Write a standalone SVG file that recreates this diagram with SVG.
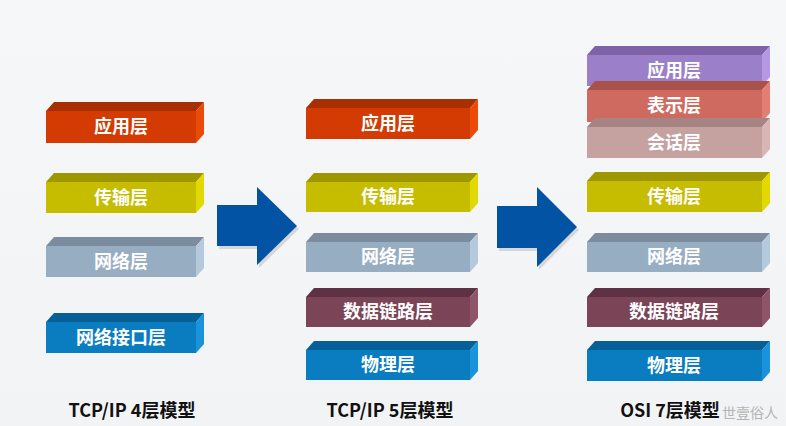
<svg xmlns="http://www.w3.org/2000/svg" width="786" height="426" viewBox="0 0 786 426">
<defs>
<style>
.lbl{font-family:"Noto Sans CJK SC","Noto Sans",sans-serif;font-weight:700;font-size:18px;fill:#ffffff;text-anchor:middle}
.ttl{font-family:"Noto Sans CJK SC","Noto Sans",sans-serif;font-weight:700;font-size:18px;fill:#111111;text-anchor:middle}
.wm{font-family:"Noto Sans CJK SC","Noto Sans",sans-serif;font-size:14px;fill:#9a9a9a;opacity:0.7}
.red .f{fill:#D33B02}.red .t{fill:#A82F02}.red .r{fill:#EC4A08}
.yel .f{fill:#C6BC00}.yel .t{fill:#9E9700}.yel .r{fill:#E2D900}
.gry .f{fill:#97ADC1}.gry .t{fill:#7A8C9D}.gry .r{fill:#B4CADC}
.blu .f{fill:#0A7DC0}.blu .t{fill:#075F97}.blu .r{fill:#1B93DA}
.plm .f{fill:#7B4457}.plm .t{fill:#5E3242}.plm .r{fill:#8E5468}
.pur .f{fill:#9C7FC9}.pur .t{fill:#7E63A8}.pur .r{fill:#B597E4}
.sal .f{fill:#CF6A61}.sal .t{fill:#A9524B}.sal .r{fill:#E27E74}
.ros .f{fill:#C5A1A0}.ros .t{fill:#A68483}.ros .r{fill:#D8B6B5}
.arw{fill:#0253A4}
.sh{fill:#000000;opacity:0.12}
</style>
<linearGradient id="bg" x1="0" y1="0" x2="0" y2="1">
<stop offset="0" stop-color="#F6F7F8"/>
<stop offset="1" stop-color="#F2F3F4"/>
</linearGradient>
</defs>
<rect width="786" height="426" fill="url(#bg)"/>

<!-- Column 1: TCP/IP 4 -->
<g id="c1-app" class="red">
<polygon class="t" points="46,111 54,102 204,102 196,111"/>
<polygon class="r" points="196,111 204,102 204,134 196,143"/>
<rect class="f" x="46" y="111" width="150" height="32"/>
<text class="lbl" x="121" y="133">应用层</text>
</g>
<g id="c1-trans" class="yel">
<polygon class="t" points="46,182 54,173 204,173 196,182"/>
<polygon class="r" points="196,182 204,173 204,204 196,213"/>
<rect class="f" x="46" y="182" width="150" height="31"/>
<text class="lbl" x="121" y="204">传输层</text>
</g>
<g id="c1-net" class="gry">
<polygon class="t" points="46,246 54,237 204,237 196,246"/>
<polygon class="r" points="196,246 204,237 204,268 196,277"/>
<rect class="f" x="46" y="246" width="150" height="31"/>
<text class="lbl" x="121" y="268">网络层</text>
</g>
<g id="c1-if" class="blu">
<polygon class="t" points="46,322 54,313 204,313 196,322"/>
<polygon class="r" points="196,322 204,313 204,344 196,353"/>
<rect class="f" x="46" y="322" width="150" height="31"/>
<text class="lbl" x="121" y="344">网络接口层</text>
</g>
<g id="t1"><text class="ttl" x="132" y="417">TCP/IP 4层模型</text></g>

<!-- Column 2: TCP/IP 5 -->
<g id="c2-app" class="red">
<polygon class="t" points="306,108 314,99 478,99 470,108"/>
<polygon class="r" points="470,108 478,99 478,130 470,139"/>
<rect class="f" x="306" y="108" width="164" height="31"/>
<text class="lbl" x="388" y="130">应用层</text>
</g>
<g id="c2-trans" class="yel">
<polygon class="t" points="306,182 314,173 478,173 470,182"/>
<polygon class="r" points="470,182 478,173 478,203 470,212"/>
<rect class="f" x="306" y="182" width="164" height="30"/>
<text class="lbl" x="388" y="203">传输层</text>
</g>
<g id="c2-net" class="gry">
<polygon class="t" points="306,242 314,233 478,233 470,242"/>
<polygon class="r" points="470,242 478,233 478,263 470,272"/>
<rect class="f" x="306" y="242" width="164" height="30"/>
<text class="lbl" x="388" y="263">网络层</text>
</g>
<g id="c2-link" class="plm">
<polygon class="t" points="306,297 314,288 478,288 470,297"/>
<polygon class="r" points="470,297 478,288 478,318 470,327"/>
<rect class="f" x="306" y="297" width="164" height="30"/>
<text class="lbl" x="388" y="318">数据链路层</text>
</g>
<g id="c2-phy" class="blu">
<polygon class="t" points="306,350 314,341 478,341 470,350"/>
<polygon class="r" points="470,350 478,341 478,371 470,380"/>
<rect class="f" x="306" y="350" width="164" height="30"/>
<text class="lbl" x="388" y="371">物理层</text>
</g>
<g id="t2"><text class="ttl" x="390" y="417">TCP/IP 5层模型</text></g>

<!-- Column 3: OSI 7 -->
<g id="c3-app" class="pur">
<polygon class="t" points="587,55 595,46 770,46 762,55"/>
<polygon class="r" points="762,55 770,46 770,77 762,86"/>
<rect class="f" x="587" y="55" width="175" height="31"/>
<text class="lbl" x="674" y="77">应用层</text>
</g>
<g id="c3-pres" class="sal">
<polygon class="t" points="587,90 595,81 770,81 762,90"/>
<polygon class="r" points="762,90 770,81 770,113 762,122"/>
<rect class="f" x="587" y="90" width="175" height="32"/>
<text class="lbl" x="674" y="112">表示层</text>
</g>
<g id="c3-sess" class="ros">
<polygon class="t" points="587,127 595,118 770,118 762,127"/>
<polygon class="r" points="762,127 770,118 770,149 762,158"/>
<rect class="f" x="587" y="127" width="175" height="31"/>
<text class="lbl" x="674" y="149">会话层</text>
</g>
<g id="c3-trans" class="yel">
<polygon class="t" points="587,181 595,172 770,172 762,181"/>
<polygon class="r" points="762,181 770,172 770,203 762,212"/>
<rect class="f" x="587" y="181" width="175" height="31"/>
<text class="lbl" x="674" y="203">传输层</text>
</g>
<g id="c3-net" class="gry">
<polygon class="t" points="587,242 595,233 770,233 762,242"/>
<polygon class="r" points="762,242 770,233 770,263 762,272"/>
<rect class="f" x="587" y="242" width="175" height="30"/>
<text class="lbl" x="674" y="263">网络层</text>
</g>
<g id="c3-link" class="plm">
<polygon class="t" points="587,297 595,288 770,288 762,297"/>
<polygon class="r" points="762,297 770,288 770,318 762,327"/>
<rect class="f" x="587" y="297" width="175" height="30"/>
<text class="lbl" x="674" y="318">数据链路层</text>
</g>
<g id="c3-phy" class="blu">
<polygon class="t" points="587,350 595,341 770,341 762,350"/>
<polygon class="r" points="762,350 770,341 770,372 762,381"/>
<rect class="f" x="587" y="350" width="175" height="31"/>
<text class="lbl" x="674" y="372">物理层</text>
</g>
<g id="t3">
<text class="ttl" x="670" y="417">OSI 7层模型</text>
<text class="wm" x="722" y="418">世壹俗人</text>
</g>

<!-- Connectors (block arrows) -->
<g id="connectors">
<polygon class="sh" points="219,208 259,208 259,190 299,229 259,268 259,249 219,249"/>
<polygon class="arw" points="217,205 257,205 257,187 297,226 257,265 257,246 217,246"/>
<polygon class="sh" points="499,209 539,209 539,190 579,230 539,270 539,251 499,251"/>
<polygon class="arw" points="497,206 537,206 537,187 577,227 537,267 537,248 497,248"/>
</g>
</svg>
